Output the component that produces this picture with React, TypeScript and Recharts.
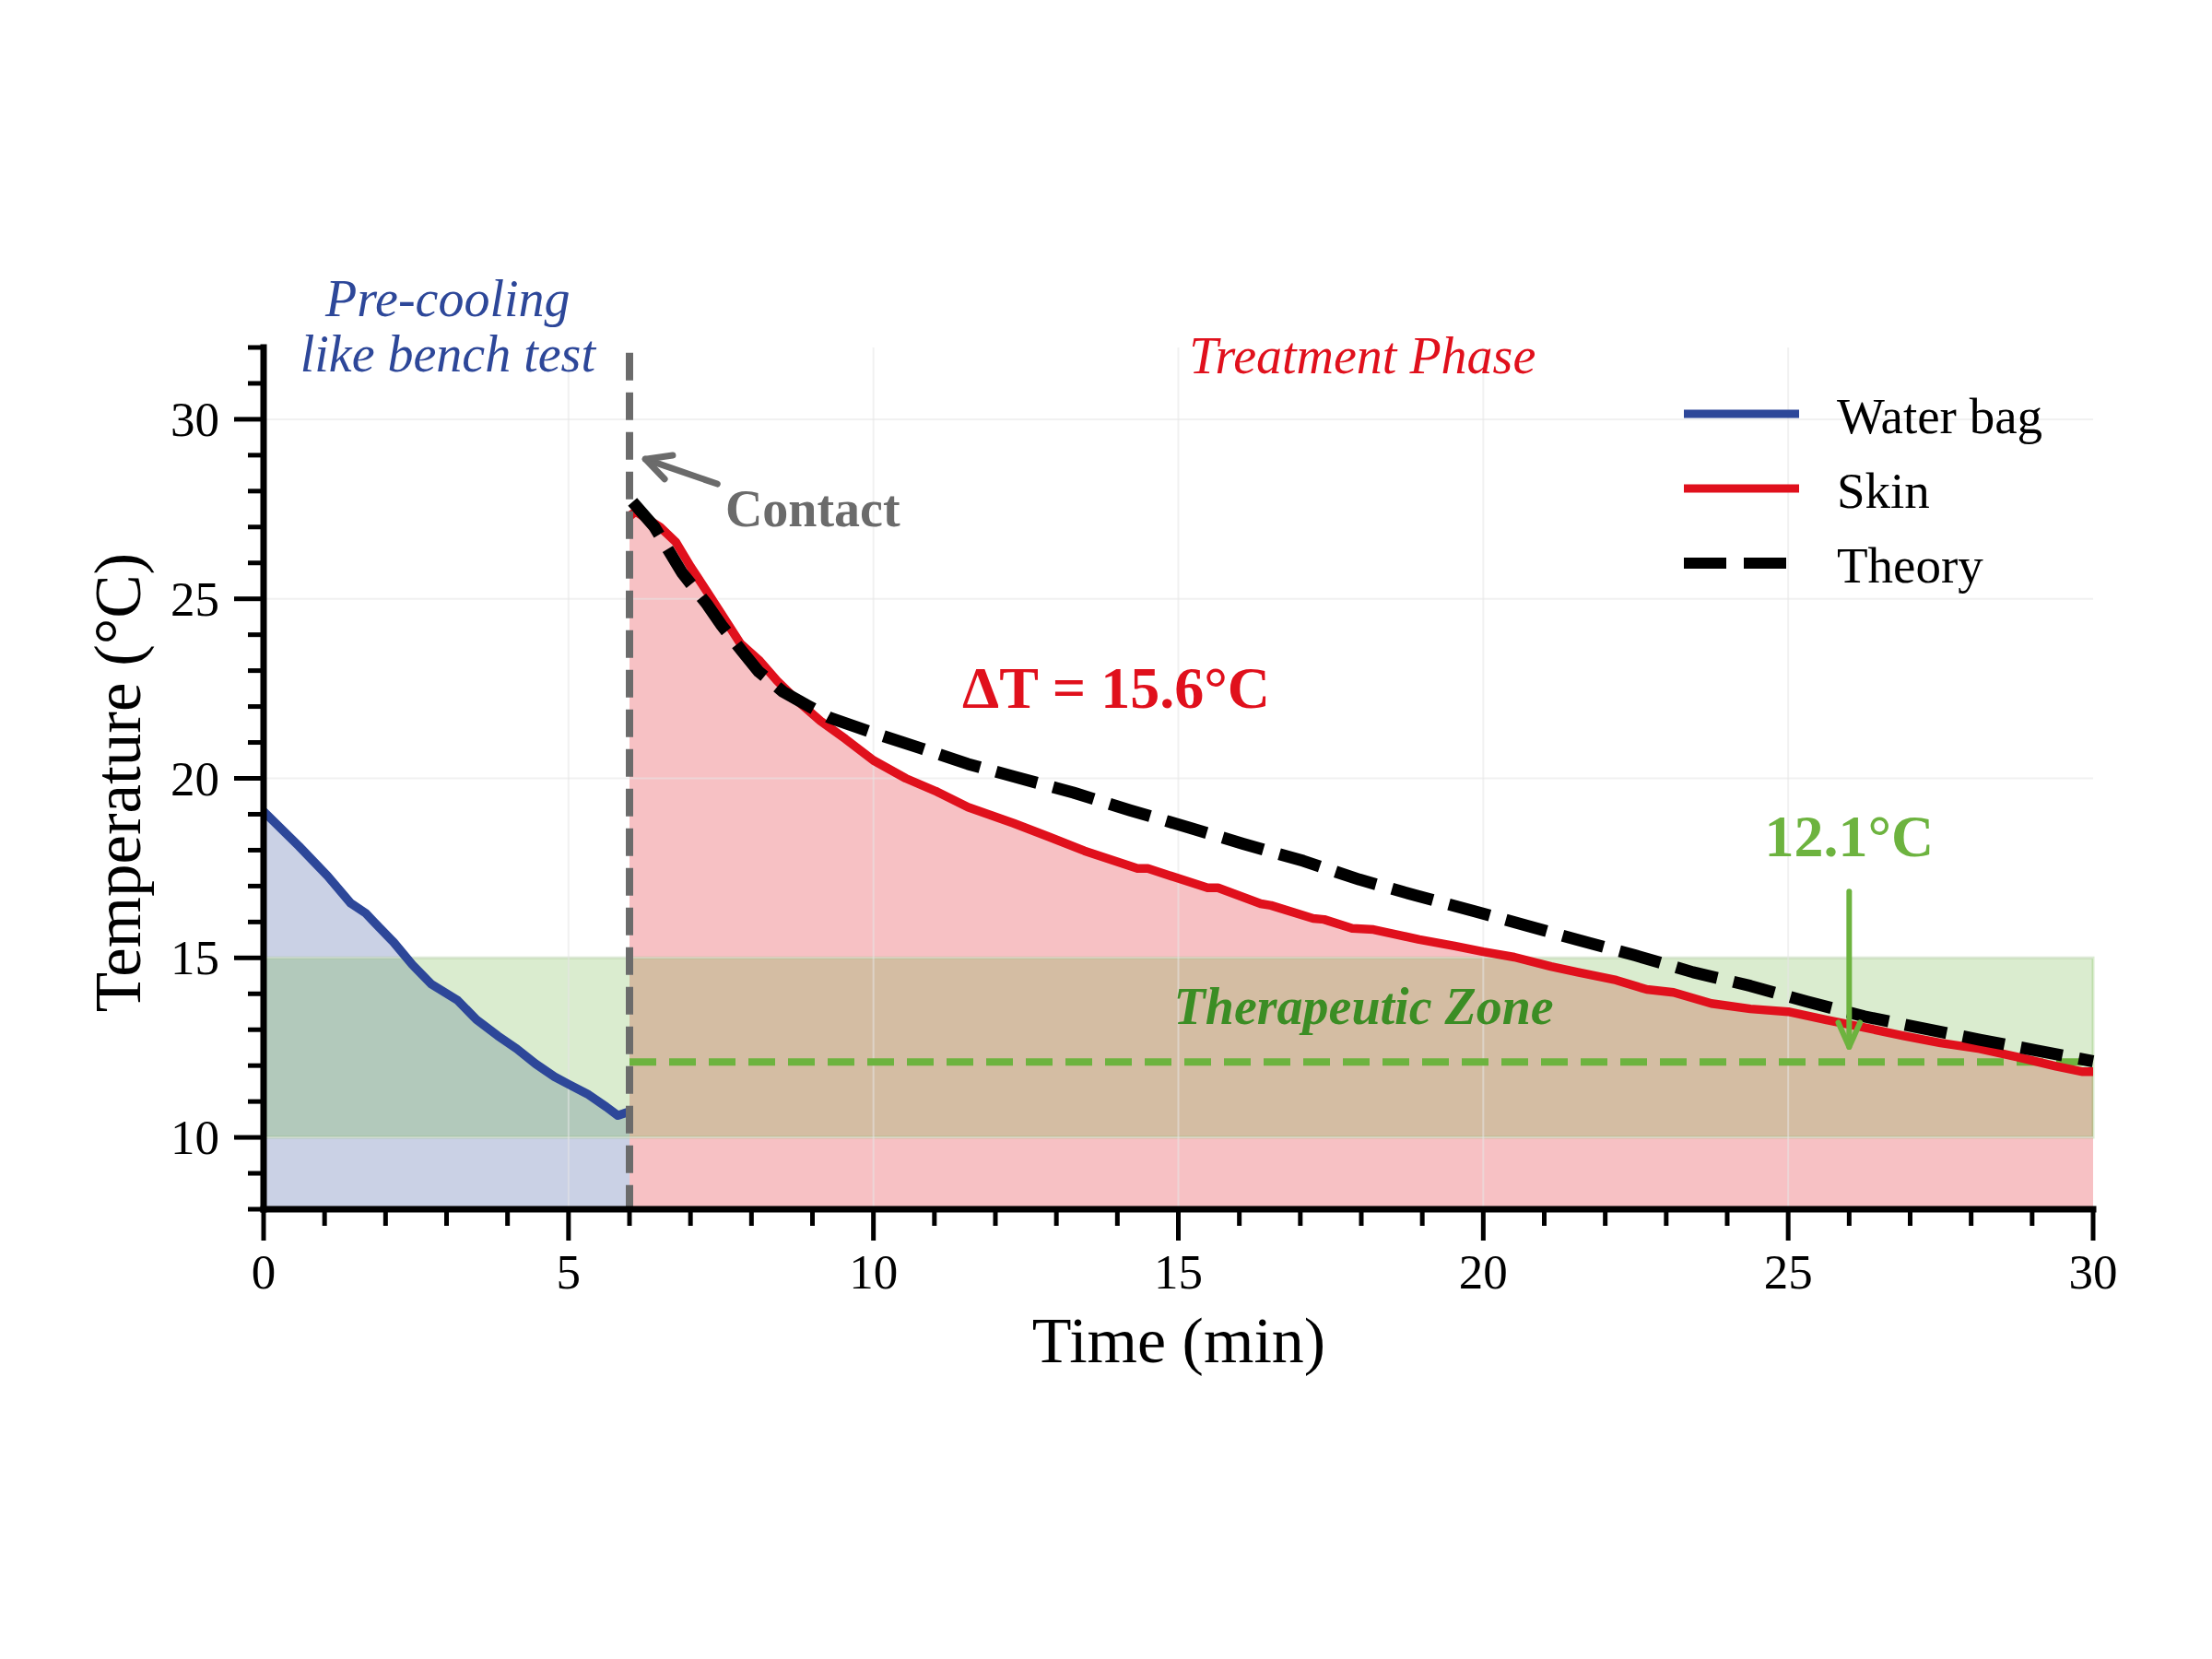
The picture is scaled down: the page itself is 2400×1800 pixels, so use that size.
import React from "react";
import {
  ComposedChart,
  Area,
  Line,
  XAxis,
  YAxis,
  ReferenceArea,
  ReferenceLine,
  ReferenceDot,
} from "recharts";

const FONT = "'Liberation Serif', 'Times New Roman', Times, serif";

const BLUE = "#2d4799";
const RED = "#e0101c";
const GREEN = "#6db33f";
const DARK_GREEN = "#3b8d24";
const GRAY = "#6b6b6b";

// time in minutes, temperature in °C
const waterBagTime = [
  0, 0.58, 1.05, 1.43, 1.67, 1.82, 2.13, 2.44, 2.75, 3.18, 3.49, 3.84, 4.15,
  4.46, 4.77, 5.0, 5.31, 5.62, 5.81, 6.0,
];
const waterBagTemp = [
  19.08, 18.11, 17.28, 16.52, 16.25, 15.98, 15.44, 14.81, 14.27, 13.82, 13.28,
  12.83, 12.47, 12.05, 11.69, 11.48, 11.21, 10.85, 10.61, 10.72,
];

const skinTime = [
  6.0, 6.1, 6.5, 6.76, 7.0, 7.27, 7.5, 7.82, 8.12, 8.42, 8.78, 9.13, 9.54,
  10.0, 10.53, 11.04, 11.55, 12.3, 12.88, 13.46, 14.33, 14.5, 15.48, 15.65,
  16.35, 16.52, 17.21, 17.39, 17.85, 18.2, 18.95, 19.53, 20.0, 20.51, 21.11,
  21.55, 22.18, 22.68, 23.12, 23.74, 24.38, 25.0, 25.63, 26.25, 26.89, 27.5,
  28.14, 28.76, 29.39, 29.83, 30.0,
];
const skinTemp = [
  27.3, 27.43, 27.0, 26.58, 25.9, 25.2, 24.6, 23.75, 23.3, 22.72, 22.12, 21.6,
  21.1, 20.5, 20.0, 19.63, 19.2, 18.75, 18.37, 17.98, 17.49, 17.49, 16.95,
  16.95, 16.51, 16.46, 16.1, 16.07, 15.82, 15.79, 15.51, 15.33, 15.17, 15.02,
  14.76, 14.6, 14.38, 14.12, 14.04, 13.73, 13.58, 13.5, 13.27, 13.06, 12.83,
  12.63, 12.47, 12.24, 11.98, 11.83, 11.83,
];

const theoryTime = [
  6.05, 6.41, 6.86, 7.27, 7.51, 7.87, 8.12, 8.52, 8.93, 9.28, 10.03, 10.79,
  11.55, 12.3, 13.28, 14.21, 15.19, 16.06, 17.05, 17.97, 18.89, 19.83, 20.75,
  21.55, 22.49, 23.44, 24.38, 25.31, 26.25, 27.2, 28.14, 29.08, 30.0,
];
const theoryTemp = [
  27.7, 27.0, 25.73, 24.85, 24.26, 23.49, 22.97, 22.41, 22.02, 21.69, 21.25,
  20.83, 20.4, 20.05, 19.6, 19.11, 18.62, 18.18, 17.7, 17.18, 16.74, 16.31,
  15.88, 15.5, 15.07, 14.6, 14.22, 13.78, 13.37, 13.04, 12.72, 12.42, 12.12,
];

const xTicks = [
  0, 1, 2, 3, 4, 5, 6, 7, 8, 9, 10, 11, 12, 13, 14, 15, 16, 17, 18, 19, 20, 21,
  22, 23, 24, 25, 26, 27, 28, 29, 30,
];
const yTicks = [
  8, 9, 10, 11, 12, 13, 14, 15, 16, 17, 18, 19, 20, 21, 22, 23, 24, 25, 26, 27,
  28, 29, 30, 31, 32,
];
const xGrid = [5, 10, 15, 20, 25];
const yGrid = [10, 15, 20, 25, 30];

const zoneLow = 10;
const zoneHigh = 15;
const contactTime = 6;
const finalSkin = 12.1;

const rows = (ts: number[], vs: number[]) => ts.map((t, i) => ({ t, v: vs[i] }));
const waterBagData = rows(waterBagTime, waterBagTemp);
const skinData = rows(skinTime, skinTemp);
const theoryData = rows(theoryTime, theoryTemp);

const legendItems = [
  { name: "Water bag", color: BLUE, width: 9, dash: undefined },
  { name: "Skin", color: RED, width: 9, dash: undefined },
  { name: "Theory", color: "#000", width: 12, dash: "46 19" },
];

function XTick({ x, y, payload }: any) {
  const major = payload.value % 5 === 0;
  return (
    <g>
      <line x1={x} x2={x} y1={y} y2={y + (major ? 34 : 18)} stroke="#000" strokeWidth={5} />
      {major && (
        <text x={x} y={y + 86} textAnchor="middle" fontSize={53} fontFamily={FONT} fill="#000">
          {payload.value}
        </text>
      )}
    </g>
  );
}

function YTick({ x, y, payload }: any) {
  const major = payload.value % 5 === 0;
  return (
    <g>
      <line x1={x} x2={x - (major ? 32 : 17)} y1={y} y2={y} stroke="#000" strokeWidth={5} />
      {major && (
        <text x={x - 48} y={y + 18} textAnchor="end" fontSize={53} fontFamily={FONT} fill="#000">
          {payload.value}
        </text>
      )}
    </g>
  );
}

const note =
  (text: string, color: string, size: number, opts: { bold?: boolean; italic?: boolean; anchor?: string }) =>
  (p: any) =>
    (
      <text
        x={p.cx}
        y={p.cy}
        fill={color}
        fontSize={size}
        fontFamily={FONT}
        fontWeight={opts.bold ? "bold" : "normal"}
        fontStyle={opts.italic ? "italic" : "normal"}
        textAnchor={opts.anchor ?? "middle"}
      >
        {text}
      </text>
    );

const arrow = (color: string, width: number, head: number, spread: number) => (p: any) => {
  const { x1, y1, x2, y2 } = p;
  const a = Math.atan2(y2 - y1, x2 - x1);
  const ax = x2 - head * Math.cos(a - spread);
  const ay = y2 - head * Math.sin(a - spread);
  const bx = x2 - head * Math.cos(a + spread);
  const by = y2 - head * Math.sin(a + spread);
  return (
    <g>
      <line x1={x1} y1={y1} x2={x2} y2={y2} stroke={color} strokeWidth={width} strokeLinecap="round" />
      <polyline
        points={`${ax},${ay} ${x2},${y2} ${bx},${by}`}
        fill="none"
        stroke={color}
        strokeWidth={width}
        strokeLinecap="round"
        strokeLinejoin="round"
      />
    </g>
  );
};

export default function App() {
  return (
    <div style={{ position: "absolute", left: 0, top: 0, width: 2400, height: 1800, background: "#fff" }}>
      <ComposedChart width={2400} height={1800} margin={{ top: 377, right: 129, bottom: 388, left: 186 }}>
        <XAxis
          dataKey="t"
          type="number"
          domain={[0, 30]}
          ticks={xTicks}
          interval={0}
          tick={<XTick />}
          tickLine={false}
          tickSize={0}
          tickMargin={0}
          height={100}
          axisLine={{ stroke: "#000", strokeWidth: 7, strokeLinecap: "square" }}
        />
        <YAxis
          type="number"
          domain={[8, 32]}
          ticks={yTicks}
          interval={0}
          tick={<YTick />}
          tickLine={false}
          tickSize={0}
          tickMargin={0}
          width={100}
          axisLine={{ stroke: "#000", strokeWidth: 7, strokeLinecap: "square" }}
        />

        <Area
          data={waterBagData}
          dataKey="v"
          type="linear"
          baseValue={8}
          stroke="none"
          fill={BLUE}
          fillOpacity={0.25}
          legendType="none"
          dot={false}
          activeDot={false}
          isAnimationActive={false}
        />
        <Area
          data={skinData}
          dataKey="v"
          type="linear"
          baseValue={8}
          stroke="none"
          fill={RED}
          fillOpacity={0.26}
          legendType="none"
          dot={false}
          activeDot={false}
          isAnimationActive={false}
        />

        <ReferenceArea
          x1={0}
          x2={30}
          y1={zoneLow}
          y2={zoneHigh}
          fill={GREEN}
          fillOpacity={0.25}
          stroke={GREEN}
          strokeOpacity={0.25}
          strokeWidth={3}
        />

        {xGrid.map((v) => (
          <ReferenceLine key={`gx${v}`} x={v} stroke="#e6e6e6" strokeOpacity={0.55} strokeWidth={2} />
        ))}
        {yGrid.map((v) => (
          <ReferenceLine key={`gy${v}`} y={v} stroke="#e6e6e6" strokeOpacity={0.55} strokeWidth={2} />
        ))}

        <ReferenceLine
          segment={[
            { x: contactTime, y: finalSkin },
            { x: 30, y: finalSkin },
          ]}
          stroke={GREEN}
          strokeWidth={8}
          strokeDasharray="29 14"
        />

        <Line
          data={waterBagData}
          dataKey="v"
          name="Water bag"
          type="linear"
          stroke={BLUE}
          strokeWidth={9.5}
          strokeLinejoin="round"
          dot={false}
          activeDot={false}
          isAnimationActive={false}
        />
        <Line
          data={skinData}
          dataKey="v"
          name="Skin"
          type="linear"
          stroke={RED}
          strokeWidth={9.5}
          strokeLinejoin="round"
          dot={false}
          activeDot={false}
          isAnimationActive={false}
        />

        <ReferenceLine
          segment={[
            { x: contactTime, y: 31.85 },
            { x: contactTime, y: 8 },
          ]}
          stroke={GRAY}
          strokeWidth={8}
          strokeDasharray="30 13"
        />

        <Line
          data={theoryData}
          dataKey="v"
          name="Theory"
          type="linear"
          stroke="#000"
          strokeWidth={13}
          strokeDasharray="46 18"
          strokeLinejoin="round"
          dot={false}
          activeDot={false}
          isAnimationActive={false}
        />

        <ReferenceLine
          segment={[
            { x: 7.44, y: 28.2 },
            { x: 6.26, y: 28.89 },
          ]}
          shape={arrow(GRAY, 7, 30, 0.47)}
        />
        <ReferenceLine
          segment={[
            { x: 26.0, y: 16.85 },
            { x: 26.0, y: 12.52 },
          ]}
          shape={arrow(GREEN, 6, 29, 0.42)}
        />

        <ReferenceDot x={3.02} y={32.88} ifOverflow="visible" shape={note("Pre-cooling", BLUE, 56, { italic: true })} />
        <ReferenceDot x={3.02} y={31.34} ifOverflow="visible" shape={note("like bench test", BLUE, 56, { italic: true })} />
        <ReferenceDot x={18.02} y={31.29} ifOverflow="visible" shape={note("Treatment Phase", RED, 56, { italic: true })} />
        <ReferenceDot x={7.57} y={27.01} shape={note("Contact", GRAY, 56, { bold: true, anchor: "start" })} />
        <ReferenceDot x={13.98} y={21.97} shape={note("ΔT = 15.6°C", RED, 64, { bold: true })} />
        <ReferenceDot x={26.0} y={17.83} shape={note("12.1°C", GREEN, 64, { bold: true })} />
        <ReferenceDot
          x={18.04}
          y={13.17}
          shape={note("Therapeutic Zone", DARK_GREEN, 56, { bold: true, italic: true })}
        />
      </ComposedChart>

      <svg
        width={2400}
        height={1800}
        style={{ position: "absolute", left: 0, top: 0, pointerEvents: "none" }}
      >
        <text x={1279} y={1478} textAnchor="middle" fontSize={70} fontFamily={FONT} fill="#000">
          Time (min)
        </text>
        <text
          x={152}
          y={849}
          transform="rotate(-90 152 849)"
          textAnchor="middle"
          fontSize={71}
          fontFamily={FONT}
          fill="#000"
        >
          Temperature (°C)
        </text>
        {legendItems.map((item, i) => {
          const y = 449 + i * 81;
          return (
            <g key={item.name}>
              <line
                x1={1827}
                x2={1952}
                y1={y}
                y2={y}
                stroke={item.color}
                strokeWidth={item.width}
                strokeDasharray={item.dash}
              />
              <text x={1993} y={y + 21} fontSize={55} fontFamily={FONT} fill="#000">
                {item.name}
              </text>
            </g>
          );
        })}
      </svg>
    </div>
  );
}
